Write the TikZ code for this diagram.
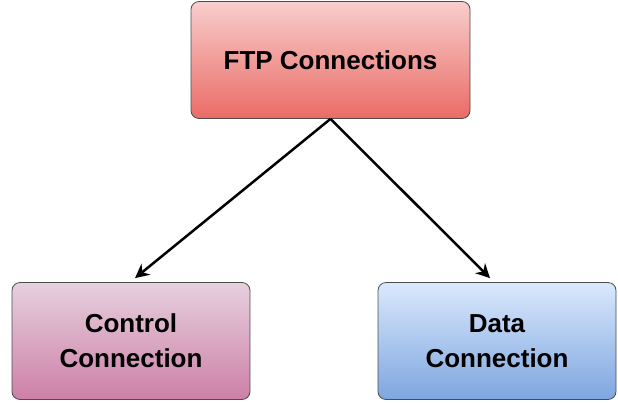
\documentclass[tikz,border=0pt]{standalone}
\usepackage{fontspec}
\setmainfont{Liberation Sans}
\usetikzlibrary{positioning,calc,arrows.meta}
\definecolor{redtop}{HTML}{F8CECC}
\definecolor{redbot}{HTML}{EA6B66}
\definecolor{pinktop}{HTML}{E6D0DE}
\definecolor{pinkbot}{HTML}{CD7FA7}
\definecolor{bluetop}{HTML}{DAE8FC}
\definecolor{bluebot}{HTML}{7EA6E0}
\tikzset{block/.style={draw=black!70, rounded corners=8pt, minimum width=238pt, minimum height=117pt, align=center, font=\fontsize{26}{35}\selectfont\bfseries, line width=0.8pt},
line/.style={-{Stealth[length=14pt,width=14pt]}, line width=2.5pt}
}

\begin{document}
\begin{tikzpicture}[x=1pt, y=-1pt]
    \useasboundingbox (0,0) rectangle (618,402);
    % Nodes
    \node [block, minimum width=279pt, top color=redtop, bottom color=redbot] (ftp) at (330.5,60) {FTP Connections};
    \node [block, top color=pinktop, bottom color=pinkbot] (control) at (131,341) {Control\\Connection};
    \node [block, top color=bluetop, bottom color=bluebot] (data) at (497,341) {Data\\Connection};
    % Arrows
    \draw [line] (ftp.south) -- ($(control.north)+(4,-4)$);
    \draw [line] (ftp.south) -- ($(data.north)+(-7,-4)$);
\end{tikzpicture}
\end{document}
